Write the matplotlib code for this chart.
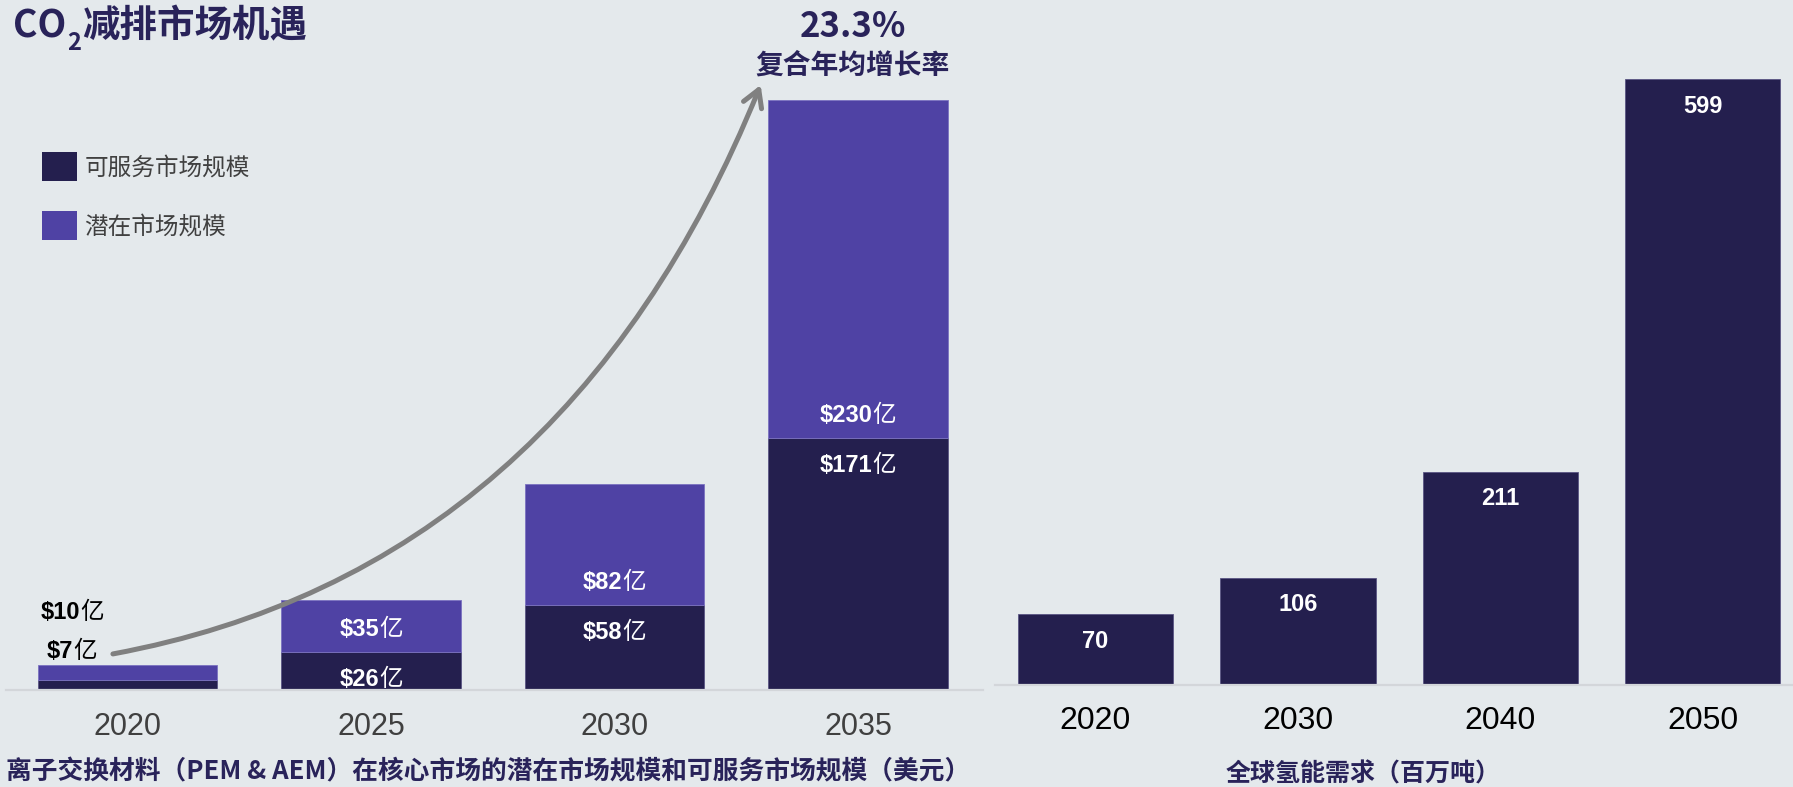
import matplotlib
matplotlib.use('Agg')
import matplotlib.pyplot as plt
from matplotlib.path import Path
from matplotlib.patches import FancyArrowPatch, Patch

# ---------------- data ----------------
years_left = ['2020', '2025', '2030', '2035']
serviceable = [7, 26, 58, 171]      # 可服务市场规模 ($亿)
potential = [10, 35, 82, 230]       # 潜在市场规模 ($亿)
years_right = ['2020', '2030', '2040', '2050']
h2_demand = [70, 106, 211, 599]     # 全球氢能需求 (百万吨)
cagr_text = '23.3%'
cagr_label = '复合年均增长率'
legend_labels = ['可服务市场规模', '潜在市场规模']
title_main = '减排市场机遇'
caption_left = '离子交换材料（PEM & AEM）在核心市场的潜在市场规模和可服务市场规模（美元）'
caption_right = '全球氢能需求（百万吨）'
unit_label = '亿'

# ---------------- style ----------------
BG = '#e4e9ec'
DARK = '#241f4e'
PURPLE = '#4f42a4'
NAVY = '#29235a'
GRAY_TXT = '#404040'
ARROW = '#808080'
AXLINE = '#d3d6da'
CJK = 'Noto Sans CJK SC'
LAT = 'Liberation Sans'

W, H = 1793, 787
DPI = 100
fig = plt.figure(figsize=(W / DPI, H / DPI), dpi=DPI, facecolor=BG)
renderer = fig.canvas.get_renderer()


def fx(px):
    return px / W


def fy(py):
    return 1 - py / H


def text_width_pt(s, **kw):
    t = fig.text(0, 0, s, **kw)
    w = t.get_window_extent(renderer).width
    t.remove()
    return w * 72.0 / DPI


def money_label(ax, x, y, dx, dy, value, color, size=17):
    """'$value' in bold Latin + '亿' in a lighter CJK face, centred at offset."""
    num = f'${value}'
    kw_num = dict(fontsize=size, weight='bold', family=LAT)
    kw_yi = dict(fontsize=size, weight='normal', family=CJK)
    wn = text_width_pt(num, **kw_num)
    wy = text_width_pt(unit_label, **kw_yi)
    left = dx - (wn + wy) / 2.0
    base = dy - 0.36 * size
    ax.annotate(num, (x, y), xytext=(left, base), textcoords='offset points',
                ha='left', va='baseline', color=color, **kw_num)
    ax.annotate(unit_label, (x, y), xytext=(left + wn, base),
                textcoords='offset points', ha='left', va='baseline',
                color=color, **kw_yi)


ax1 = fig.add_axes([fx(6), fy(690), fx(983) - fx(6), 690 / H])
ax2 = fig.add_axes([fx(995), fy(685), fx(1793) - fx(995), 685 / H])

for ax in (ax1, ax2):
    ax.set_facecolor('none')
    for s in ('top', 'left', 'right'):
        ax.spines[s].set_visible(False)
    ax.spines['bottom'].set_color(AXLINE)
    ax.spines['bottom'].set_linewidth(1.6)
    ax.set_yticks([])
    ax.tick_params(axis='x', length=0)

# ---------------- left chart ----------------
xl = list(range(len(years_left)))
bw1 = 0.737
ax1.bar(xl, serviceable, width=bw1, color=DARK, edgecolor='#5a5584', linewidth=0.6)
ax1.bar(xl, potential, width=bw1, bottom=serviceable, color=PURPLE,
        edgecolor='#7b72c0', linewidth=0.6)
ax1.set_xlim(-0.499, 3.513)
ax1.set_ylim(0, 468.75)
ax1.set_xticks(xl, years_left)
ax1.tick_params(axis='x', pad=16, labelsize=22, labelcolor=GRAY_TXT)
for lab in ax1.get_xticklabels():
    lab.set_family(LAT)

for i in xl:
    if i == 0:
        tot = serviceable[i] + potential[i]
        money_label(ax1, i, tot, -40, 39, potential[i], 'black')
        money_label(ax1, i, tot, -40, 11.5, serviceable[i], 'black')
    else:
        b = serviceable[i]
        money_label(ax1, i, b, 0, 17.5, potential[i], 'white')
        money_label(ax1, i, b, 0, -18.5, serviceable[i], 'white')

# growth arrow (quadratic curve)
arrow_path = Path([(-0.06, 24.5), (1.79, 81), (2.60, 411)],
                  [Path.MOVETO, Path.CURVE3, Path.CURVE3])
arr = FancyArrowPatch(path=arrow_path, transform=ax1.transData,
                      arrowstyle='->,head_length=0.6,head_width=0.35',
                      mutation_scale=20, color=ARROW, linewidth=3.6,
                      zorder=5, clip_on=False)
ax1.add_patch(arr)

# CAGR text
fig.text(fx(853), fy(37), cagr_text, ha='center', va='baseline', fontsize=25,
         weight='bold', color=NAVY, family=CJK)
fig.text(fx(852), fy(73.5), cagr_label, ha='center', va='baseline', fontsize=20,
         weight='bold', color=NAVY, family=CJK)

# legend
handles = [Patch(facecolor=DARK), Patch(facecolor=PURPLE)]
fig.legend(handles, legend_labels, loc='upper left',
           bbox_to_anchor=(fx(42), fy(152.5)), bbox_transform=fig.transFigure,
           frameon=False, borderpad=0, borderaxespad=0,
           handlelength=1.5, handleheight=1.5, labelspacing=1.27,
           handletextpad=0.3, prop={'family': CJK, 'size': 17},
           labelcolor=GRAY_TXT)

# ---------------- right chart ----------------
xr = list(range(len(years_right)))
ax2.bar(xr, h2_demand, width=0.768, color=DARK, edgecolor='#5a5584', linewidth=0.6)
ax2.set_xlim(-0.4965, 3.446)
ax2.set_ylim(0, 677)
ax2.set_xticks(xr, years_right)
ax2.tick_params(axis='x', pad=14.8, labelsize=23, labelcolor='black')
for lab in ax2.get_xticklabels():
    lab.set_family(LAT)
for i, v in zip(xr, h2_demand):
    ax2.annotate(f'{v}', (i, v), xytext=(0, -19.5), textcoords='offset points',
                 ha='center', va='center', fontsize=17, weight='bold',
                 color='white', family=LAT)

# ---------------- title & captions ----------------
t1 = fig.text(fx(13), fy(37), 'CO', ha='left', va='baseline', fontsize=27,
              weight='bold', color=NAVY, family=CJK)
bb1 = t1.get_window_extent(renderer)
t2 = fig.text((bb1.x1 + 1) / W, fy(50), '2', ha='left', va='baseline', fontsize=17,
              weight='bold', color=NAVY, family=CJK)
bb2 = t2.get_window_extent(renderer)
fig.text((bb2.x1 + 1) / W, fy(37), title_main, ha='left', va='baseline',
         fontsize=27, weight='bold', color=NAVY, family=CJK)

fig.text(fx(6), fy(779), caption_left, ha='left', va='baseline', fontsize=18.5,
         weight='bold', color=NAVY, family=CJK)
fig.text(fx(1363), fy(781), caption_right, ha='center', va='baseline', fontsize=18,
         weight='bold', color=NAVY, family=CJK)

fig.savefig('out.png', dpi=DPI, facecolor=BG)
